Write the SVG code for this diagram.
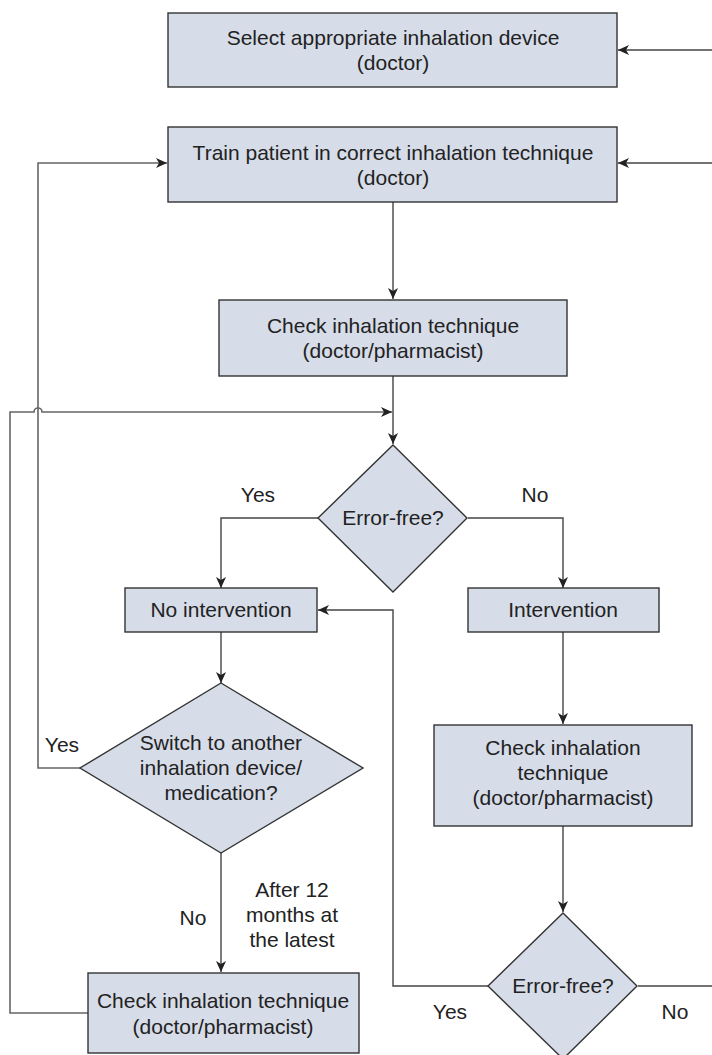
<svg xmlns="http://www.w3.org/2000/svg" width="712" height="1055" viewBox="0 0 712 1055">
  <style>
    .box { fill: #d6dce8; stroke: #333; stroke-width: 1.4; }
    .lbl { font-family: "Liberation Sans", Arial, sans-serif; font-size: 21px; fill: #222; text-anchor: middle; }
    .ln { fill: none; stroke: #444; stroke-width: 1.4; }
    .ln2 { fill: none; stroke: #666; stroke-width: 1.6; }
  </style>
  <defs>
    <marker id="arr" markerWidth="12" markerHeight="12" viewBox="0 0 12 12" refX="11" refY="6" orient="auto" markerUnits="userSpaceOnUse">
      <path d="M0,1 L11,6 L0,11 L3,6 Z" fill="#222"/>
    </marker>
  </defs>
  <rect width="712" height="1055" fill="#ffffff"/>

  <!-- connectors -->
  <g id="connectors">
    <path class="ln" d="M712,50 H618" marker-end="url(#arr)"/>
    <path class="ln" d="M712,163 H618" marker-end="url(#arr)"/>
    <path class="ln" d="M393,202 V299" marker-end="url(#arr)"/>
    <path class="ln" d="M393,376 V444" marker-end="url(#arr)"/>
    <!-- loop back from the bottom-left check, hopping over the x=38 line -->
    <path class="ln2" d="M88,1013 H10 V412 H34 A4,4 0 0 1 42,412 H392" marker-end="url(#arr)"/>
    <!-- Yes from first decision -->
    <path class="ln" d="M318,518 H221 V588" marker-end="url(#arr)"/>
    <!-- No from first decision -->
    <path class="ln" d="M468,518 H563 V588" marker-end="url(#arr)"/>
    <path class="ln" d="M221,632 V683" marker-end="url(#arr)"/>
    <!-- Yes from switch decision back to training -->
    <path class="ln2" d="M80,768 H38 V163 H167" marker-end="url(#arr)"/>
    <path class="ln" d="M221,853 V972" marker-end="url(#arr)"/>
    <path class="ln" d="M563,632 V724" marker-end="url(#arr)"/>
    <path class="ln" d="M563,826 V912" marker-end="url(#arr)"/>
    <!-- Yes from second decision back to no intervention -->
    <path class="ln" d="M488,986 H393 V610 H318" marker-end="url(#arr)"/>
    <!-- No from second decision, continues off the right edge -->
    <path class="ln" d="M638,986 H712"/>
  </g>

  <g id="select-device">
    <rect class="box" x="168" y="13" width="449" height="74"/>
    <text class="lbl" x="393" y="45">Select appropriate inhalation device</text>
    <text class="lbl" x="393" y="70">(doctor)</text>
  </g>

  <g id="train-patient">
    <rect class="box" x="168" y="127" width="449" height="75"/>
    <text class="lbl" x="393" y="160">Train patient in correct inhalation technique</text>
    <text class="lbl" x="393" y="185">(doctor)</text>
  </g>

  <g id="check-1">
    <rect class="box" x="219" y="300" width="348" height="76"/>
    <text class="lbl" x="393" y="333">Check inhalation technique</text>
    <text class="lbl" x="393" y="358">(doctor/pharmacist)</text>
  </g>

  <g id="error-free-1">
    <polygon class="box" points="393,445 467,518 393,592 318,518"/>
    <text class="lbl" x="393" y="525">Error-free?</text>
  </g>
  <text class="lbl" x="258" y="502">Yes</text>
  <text class="lbl" x="535" y="502">No</text>

  <g id="no-intervention">
    <rect class="box" x="125" y="588" width="192" height="44"/>
    <text class="lbl" x="221" y="617">No intervention</text>
  </g>

  <g id="intervention">
    <rect class="box" x="468" y="588" width="191" height="44"/>
    <text class="lbl" x="563" y="617">Intervention</text>
  </g>

  <g id="switch-device">
    <polygon class="box" points="221,683 363,768 221,853 80,768"/>
    <text class="lbl" x="221" y="750">Switch to another</text>
    <text class="lbl" x="221" y="775">inhalation device/</text>
    <text class="lbl" x="221" y="800">medication?</text>
  </g>
  <text class="lbl" x="62" y="752">Yes</text>
  <text class="lbl" x="193" y="925">No</text>
  <text class="lbl" x="292" y="897">After 12</text>
  <text class="lbl" x="292" y="922">months at</text>
  <text class="lbl" x="292" y="947">the latest</text>

  <g id="check-2">
    <rect class="box" x="434" y="725" width="258" height="101"/>
    <text class="lbl" x="563" y="755">Check inhalation</text>
    <text class="lbl" x="563" y="780">technique</text>
    <text class="lbl" x="563" y="805">(doctor/pharmacist)</text>
  </g>

  <g id="error-free-2">
    <polygon class="box" points="563,913 637,986 563,1059 488,986"/>
    <text class="lbl" x="563" y="993">Error-free?</text>
  </g>
  <text class="lbl" x="450" y="1019">Yes</text>
  <text class="lbl" x="675" y="1019">No</text>

  <g id="check-3">
    <rect class="box" x="88" y="973" width="271" height="80"/>
    <text class="lbl" x="223" y="1008">Check inhalation technique</text>
    <text class="lbl" x="223" y="1034">(doctor/pharmacist)</text>
  </g>
</svg>
